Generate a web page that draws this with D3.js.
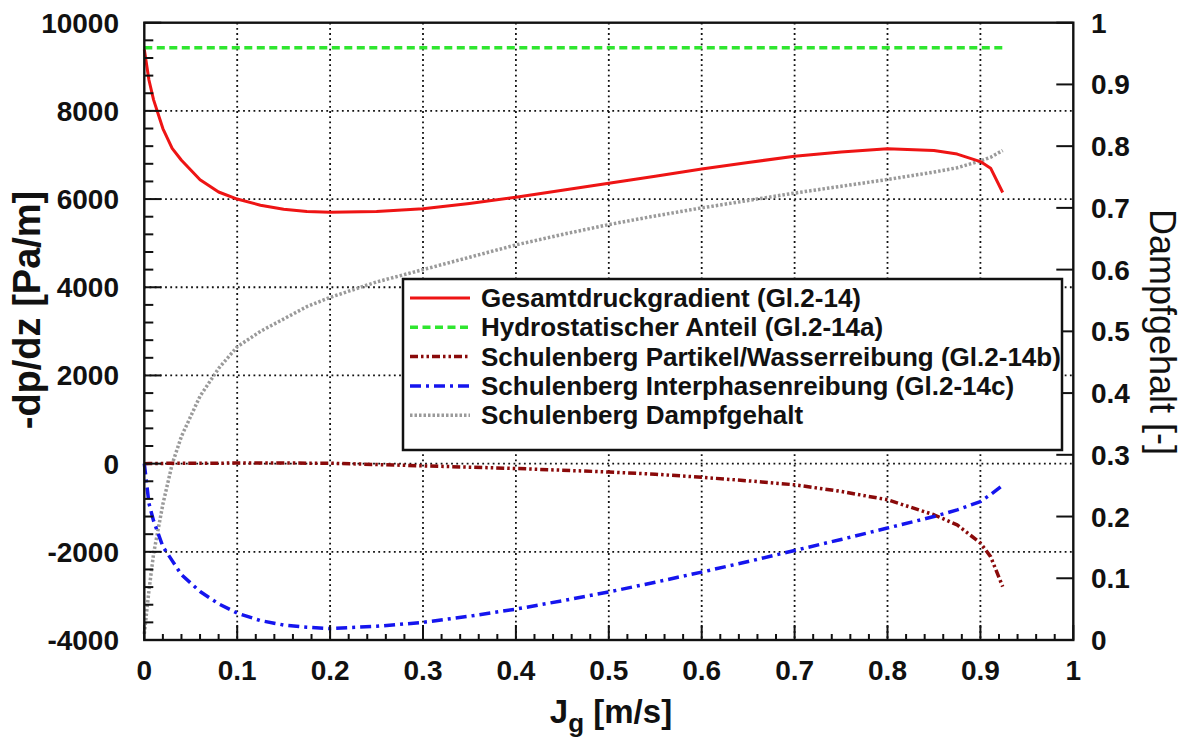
<!DOCTYPE html>
<html>
<head>
<meta charset="utf-8">
<script src="https://cdn.jsdelivr.net/npm/d3@7"></script>
<style>
  html, body { margin: 0; padding: 0; background: #fff; }
  svg { display: block; font-family: "Liberation Sans", Arial, sans-serif; }
</style>
</head>
<body>
<svg id="chart" width="1186" height="747"></svg>
<script>
// Superficial gas velocity Jg [m/s]
const jg = [0, 0.005, 0.01, 0.02, 0.03, 0.04, 0.06, 0.08, 0.1, 0.125, 0.15, 0.175, 0.2,
            0.25, 0.3, 0.35, 0.4, 0.45, 0.5, 0.55, 0.6, 0.65, 0.7, 0.75, 0.8, 0.85,
            0.875, 0.9, 0.911, 0.924];

// Total pressure gradient -dp/dz [Pa/m] (Gl.2-14)
const gesamt = [9390, 8700, 8250, 7600, 7150, 6880, 6440, 6160, 6000, 5860, 5770, 5720, 5700,
                5720, 5780, 5900, 6040, 6200, 6360, 6520, 6680, 6830, 6970, 7070, 7140, 7100,
                7020, 6850, 6700, 6150];

// Hydrostatic part (Gl.2-14a)
const hydroJg = [0, 0.924];
const hydro = [9430, 9430];

// Particle/water friction (Gl.2-14b)
const partikel = [0, 5, 5, 5, 10, 10, 10, 10, 15, 15, 15, 10, 10,
                  -20, -50, -80, -110, -150, -190, -240, -310, -390, -480, -630, -820, -1160,
                  -1390, -1800, -2110, -2790];

// Interphase friction (Gl.2-14c)
const interphase = [0, -900, -1300, -1880, -2200, -2520, -2900, -3180, -3390, -3560, -3660, -3710, -3740,
                    -3690, -3600, -3460, -3300, -3110, -2910, -2690, -2460, -2220, -1970, -1720, -1460, -1200,
                    -1050, -860, -700, -490];

// Void fraction [-] (right axis)
const dampf = [0.01, 0.08, 0.14, 0.22, 0.285, 0.33, 0.395, 0.44, 0.475, 0.5, 0.52, 0.54, 0.555,
               0.58, 0.6, 0.62, 0.64, 0.657, 0.673, 0.687, 0.7, 0.712, 0.724, 0.735, 0.746, 0.758,
               0.765, 0.776, 0.782, 0.793];

const xTicks = [0, 0.1, 0.2, 0.3, 0.4, 0.5, 0.6, 0.7, 0.8, 0.9, 1];
const yTicks = [-4000, -2000, 0, 2000, 4000, 6000, 8000, 10000];
const y2Ticks = [0, 0.1, 0.2, 0.3, 0.4, 0.5, 0.6, 0.7, 0.8, 0.9, 1];

const legendLabels = [
  "Gesamtdruckgradient (Gl.2-14)",
  "Hydrostatischer Anteil (Gl.2-14a)",
  "Schulenberg Partikel/Wasserreibung (Gl.2-14b)",
  "Schulenberg Interphasenreibung (Gl.2-14c)",
  "Schulenberg Dampfgehalt"
];

const svg = d3.select("#chart");
const L = 144.3, R = 1073.3, T = 22.7, B = 640;

const x = d3.scaleLinear().domain([0, 1]).range([L, R]);
const y = d3.scaleLinear().domain([-4000, 10000]).range([B, T]);
const y2 = d3.scaleLinear().domain([0, 1]).range([B, T]);

// Styles for each series
const styles = [
  { color: "#ee1414", width: 3, dash: null },
  { color: "#2fe62f", width: 3.5, dash: "8,4.5" },
  { color: "#8a0a0a", width: 3.5, dash: "8,3,2.5,3,2.5,3" },
  { color: "#1515ee", width: 3.5, dash: "11,5,3,5" },
  { color: "#9a9a9a", width: 3.5, dash: "2.5,2" }
];

// Grid
const grid = svg.append("g").attr("stroke", "#111").attr("stroke-width", 1.8)
  .attr("stroke-dasharray", "1.8,3.4");
grid.selectAll("line.v").data(xTicks.filter(d => d > 0 && d < 1)).join("line")
  .attr("x1", d => x(d)).attr("x2", d => x(d)).attr("y1", T).attr("y2", B);
grid.selectAll("line.h").data(yTicks.filter(d => d > -4000 && d < 10000)).join("line")
  .attr("y1", d => y(d)).attr("y2", d => y(d)).attr("x1", L).attr("x2", R);

// Curves
const lineL = (xs, vs) => d3.line().x((d, i) => x(xs[i])).y(d => y(d))(vs);
const lineR = (xs, vs) => d3.line().x((d, i) => x(xs[i])).y(d => y2(d))(vs);
const paths = [
  lineL(jg, gesamt),
  lineL(hydroJg, hydro),
  lineL(jg, partikel),
  lineL(jg, interphase),
  lineR(jg, dampf)
];
const curveOrder = [4, 1, 2, 3, 0];
curveOrder.forEach(i => {
  svg.append("path").attr("d", paths[i]).attr("fill", "none")
    .attr("stroke", styles[i].color).attr("stroke-width", styles[i].width)
    .attr("stroke-dasharray", styles[i].dash).attr("stroke-linejoin", "round");
});

// Axes with inward ticks
const axisG = svg.append("g").attr("stroke", "#111").attr("stroke-width", 2);
const yMinor = d3.range(-4000, 10001, 400);
axisG.selectAll("line.ym").data(yMinor).join("line")
  .attr("x1", L).attr("x2", d => L + (d % 2000 === 0 ? 17 : 9))
  .attr("y1", d => y(d)).attr("y2", d => y(d));
const xMinor = d3.range(0, 51).map(i => i / 50);
axisG.selectAll("line.xm").data(xMinor).join("line")
  .attr("x1", d => x(d)).attr("x2", d => x(d))
  .attr("y1", B).attr("y2", (d, i) => B - (i % 5 === 0 ? 15 : 6));
axisG.selectAll("line.y2").data(y2Ticks).join("line")
  .attr("x1", R).attr("x2", R - 17)
  .attr("y1", d => y2(d)).attr("y2", d => y2(d));

// Frame
svg.append("rect").attr("x", L).attr("y", T).attr("width", R - L).attr("height", B - T)
  .attr("fill", "none").attr("stroke", "#111").attr("stroke-width", 2.4);

// Tick labels
const tickFont = 28;
svg.append("g").selectAll("text").data(yTicks).join("text")
  .attr("x", 119).attr("y", d => y(d) + 10).attr("text-anchor", "end")
  .attr("font-size", tickFont).attr("font-weight", "bold").attr("fill", "#111")
  .text(d => d);
svg.append("g").selectAll("text").data(xTicks).join("text")
  .attr("x", d => x(d)).attr("y", 680).attr("text-anchor", "middle")
  .attr("font-size", tickFont).attr("font-weight", "bold").attr("fill", "#111")
  .text(d => d);
svg.append("g").selectAll("text").data(y2Ticks).join("text")
  .attr("x", 1091).attr("y", d => y2(d) + 10).attr("text-anchor", "start")
  .attr("font-size", tickFont).attr("font-weight", "bold").attr("fill", "#111")
  .text(d => d);

// Axis titles
svg.append("text").attr("transform", "translate(40,310) rotate(-90)")
  .attr("text-anchor", "middle").attr("font-size", 38).attr("font-weight", "bold")
  .attr("fill", "#111").text("-dp/dz [Pa/m]");

const xt = svg.append("text").attr("x", 611).attr("y", 723)
  .attr("text-anchor", "middle").attr("font-size", 33).attr("font-weight", "bold").attr("fill", "#111");
xt.append("tspan").text("J");
xt.append("tspan").attr("font-size", 26).attr("dy", 9).text("g");
xt.append("tspan").attr("dy", -9).text(" [m/s]");

svg.append("text").attr("transform", "translate(1150,332) rotate(90)")
  .attr("text-anchor", "middle").attr("font-size", 36).attr("fill", "#111")
  .text("Dampfgehalt [-]");

// Legend
const lg = svg.append("g");
lg.append("rect").attr("x", 403).attr("y", 279).attr("width", 659).attr("height", 171)
  .attr("fill", "#fff").attr("stroke", "#111").attr("stroke-width", 2.5);
legendLabels.forEach((lab, i) => {
  const cy = 298 + i * 29.3;
  lg.append("line").attr("x1", 410).attr("x2", 470).attr("y1", cy).attr("y2", cy)
    .attr("stroke", styles[i].color).attr("stroke-width", styles[i].width)
    .attr("stroke-dasharray", styles[i].dash);
  lg.append("text").attr("x", 481).attr("y", cy + 9).attr("font-size", 26)
    .attr("font-weight", "bold").attr("fill", "#111").text(lab);
});
</script>
</body>
</html>
